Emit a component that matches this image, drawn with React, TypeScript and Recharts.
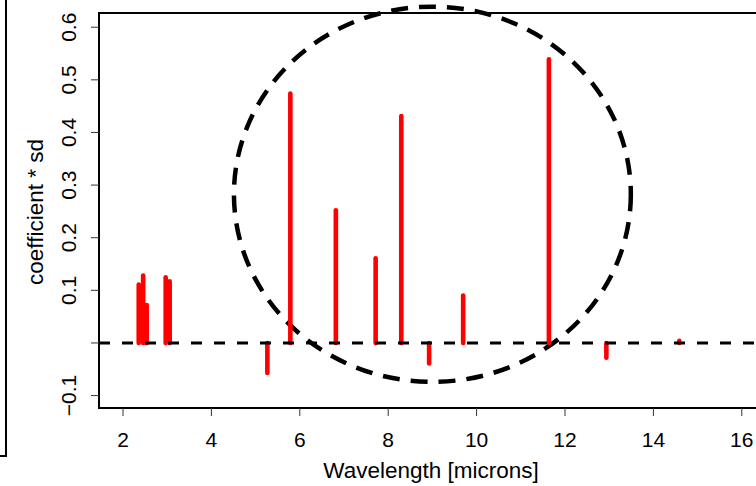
import React from 'react';
import {
  ComposedChart, Bar, XAxis, YAxis, ReferenceLine, ReferenceArea, Label
} from 'recharts';

// wavelengths (microns) and coefficient * sd
const wavelength = [2.36, 2.46, 2.54, 2.97, 3.06, 5.27, 5.79, 6.82, 7.72, 8.3, 8.93, 9.7, 11.64, 12.94, 14.59];
const coefSd = [0.111, 0.128, 0.072, 0.125, 0.117, -0.057, 0.474, 0.252, 0.161, 0.431, -0.039, 0.09, 0.539, -0.028, 0.004];

const xTicks = [2, 4, 6, 8, 10, 12, 14, 16];
const yTicks = [-0.1, 0, 0.1, 0.2, 0.3, 0.4, 0.5, 0.6];

const xDomain = [1.457, 16.48];
const yDomain = [-0.1236, 0.627];

// highlighted region (ellipse bounds in data units)
const ellipseX = [4.51, 13.49];
const ellipseY = [-0.074, 0.639];

const FONT = '"Liberation Sans", Arial, sans-serif';

const data = wavelength.map((w, i) => ({ w, v: coefSd[i] }));

const fmtY = (v: number) => {
  if (Math.abs(v) < 1e-9) return '';
  return v < 0 ? '\u2212' + Math.abs(v).toFixed(1) : v.toFixed(1);
};

const YTick = ({ y, payload }: any) => {
  const bx = 76;
  return (
    <text x={bx} y={y} transform={`rotate(-90, ${bx}, ${y})`} textAnchor="middle"
      fontFamily={FONT} fontSize={21} fill="#000">
      {fmtY(payload.value)}
    </text>
  );
};

const XTick = ({ x, payload }: any) => (
  <text x={x} y={447} textAnchor="middle" fontFamily={FONT} fontSize={21} fill="#000">
    {payload.value}
  </text>
);

const Stick = (props: any) => {
  const { x, y, width, height } = props;
  const cx = x + width / 2;
  return (
    <line x1={cx} x2={cx} y1={y} y2={y + height} stroke="#ff0000" strokeWidth={4.6} strokeLinecap="round" />
  );
};

const EllipseShape = (props: any) => {
  const { x, y, width, height } = props;
  return (
    <ellipse cx={x + width / 2} cy={y + height / 2} rx={Math.abs(width) / 2} ry={Math.abs(height) / 2}
      fill="none" stroke="#000" strokeWidth={4.5} strokeDasharray="17 11" />
  );
};

const BoxShape = (props: any) => {
  const { x, y, width, height } = props;
  return <rect x={x} y={y} width={width} height={height} fill="none" stroke="#000" strokeWidth={2} />;
};

export default function App() {
  return (
    <div style={{ position: 'absolute', left: 0, top: 0, width: 756, height: 486, overflow: 'hidden', background: '#fff' }}>
      <div style={{ position: 'absolute', left: -20, top: -20, width: 27, height: 477, boxSizing: 'border-box', border: '2px solid #000' }} />
      <ComposedChart width={780} height={486} data={data} margin={{ top: 13, right: 17, bottom: 0, left: 0 }}>
        <XAxis dataKey="w" type="number" domain={xDomain} ticks={xTicks} allowDataOverflow
          height={78} axisLine={false} tickSize={8} tickLine={{ stroke: '#333', strokeWidth: 1 }} tick={<XTick />}>
          <Label content={() => (
            <text x={431} y={478} textAnchor="middle" fontFamily={FONT} fontSize={22.5} fill="#000">Wavelength [microns]</text>
          )} />
        </XAxis>
        <YAxis type="number" domain={yDomain} ticks={yTicks} allowDataOverflow width={99}
          axisLine={false} tickSize={8} tickLine={{ stroke: '#333', strokeWidth: 1 }} tick={<YTick />}>
          <Label content={() => (
            <text x={43} y={212} transform="rotate(-90, 43, 212)" textAnchor="middle" fontFamily={FONT} fontSize={22.5} fill="#000">coefficient * sd</text>
          )} />
        </YAxis>
        <ReferenceLine y={0} stroke="#000" strokeWidth={3} strokeDasharray="11 12" />
        <Bar dataKey="v" barSize={4} shape={<Stick />} isAnimationActive={false} />
        <ReferenceArea x1={ellipseX[0]} x2={ellipseX[1]} y1={ellipseY[0]} y2={ellipseY[1]}
          ifOverflow="visible" shape={<EllipseShape />} />
        <ReferenceArea x1={xDomain[0]} x2={xDomain[1]} y1={yDomain[0]} y2={yDomain[1]}
          ifOverflow="visible" shape={<BoxShape />} />
      </ComposedChart>
    </div>
  );
}
